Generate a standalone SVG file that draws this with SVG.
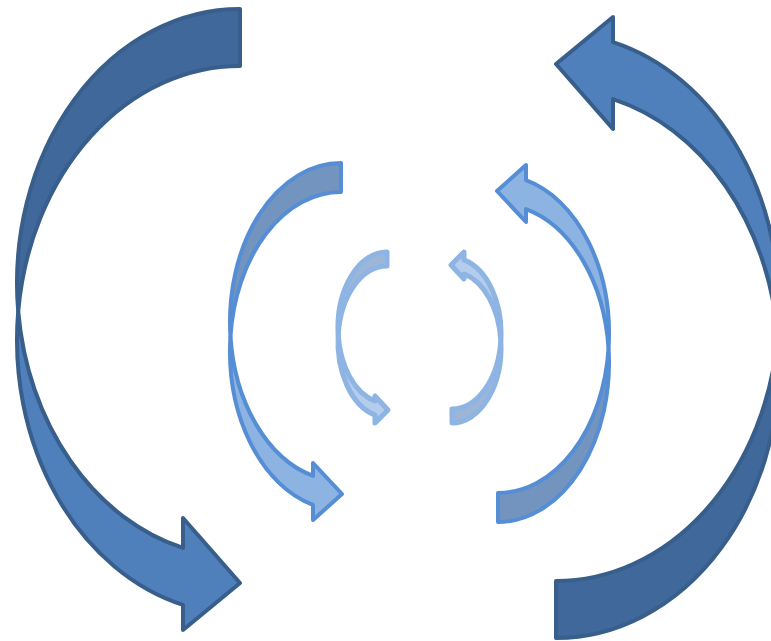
<svg xmlns="http://www.w3.org/2000/svg" width="771" height="641" viewBox="0 0 771 641">
<style>
.big{stroke:#385E8B;stroke-width:4;stroke-linejoin:round}
.big-back{fill:#41689A}
.big-front{fill:#4F80BC}
.mid{stroke:#558ED5;stroke-width:4;stroke-linejoin:round}
.mid-back{fill:#7294BF}
.mid-front{fill:#8DB3E2}
.sml{stroke:#8EB4E3;stroke-width:5;stroke-linejoin:round}
.sml-back{fill:#9DB6D8}
.sml-front{fill:#B5CDEC}
</style>
<rect width="771" height="641" fill="#FFFFFF"/>
<g id="arrow-big-left" class="big">
<path class="big-back" d="M240,9 A223,274 0 0 0 18.21,311.5 A223,274 0 0 1 240,66 Z"/>
<path class="big-front" d="M18.21,311.5 A223,274 0 0 0 183,604.9 L183,630 L240,583 L183,518 L183,547.9 A223,274 0 0 1 18.21,311.5 Z"/>
</g>
<g id="arrow-big-right" class="big" transform="rotate(180 398 323.5)">
<path class="big-back" d="M240,9 A223,274 0 0 0 18.21,311.5 A223,274 0 0 1 240,66 Z"/>
<path class="big-front" d="M18.21,311.5 A223,274 0 0 0 183,604.9 L183,630 L240,583 L183,518 L183,547.9 A223,274 0 0 1 18.21,311.5 Z"/>
</g>
<g id="arrow-mid-left" class="mid">
<path class="mid-back" d="M341,163 A111,159 0 0 0 230.46,336.5 A111,159 0 0 1 341,192 Z"/>
<path class="mid-front" d="M230.46,336.5 A111,159 0 0 0 313,504.9 L313,520 L342,494 L313,463 L313,475.9 A111,159 0 0 1 230.46,336.5 Z"/>
</g>
<g id="arrow-mid-right" class="mid" transform="rotate(180 419.5 342.5)">
<path class="mid-back" d="M341,163 A111,159 0 0 0 230.46,336.5 A111,159 0 0 1 341,192 Z"/>
<path class="mid-front" d="M230.46,336.5 A111,159 0 0 0 313,504.9 L313,520 L342,494 L313,463 L313,475.9 A111,159 0 0 1 230.46,336.5 Z"/>
</g>
<g id="arrow-small-left" class="sml">
<path class="sml-back" d="M387,252 A49,75.7 0 0 0 338.2,334.7 A49,75.7 0 0 1 387,266 Z"/>
<path class="sml-front" d="M338.2,334.7 A49,75.7 0 0 0 375,415.1 L375,423 L388,410 L375,396 L375,401.1 A49,75.7 0 0 1 338.2,334.7 Z"/>
</g>
<g id="arrow-small-right" class="sml" transform="rotate(180 419.5 337.5)">
<path class="sml-back" d="M387,252 A49,75.7 0 0 0 338.2,334.7 A49,75.7 0 0 1 387,266 Z"/>
<path class="sml-front" d="M338.2,334.7 A49,75.7 0 0 0 375,415.1 L375,423 L388,410 L375,396 L375,401.1 A49,75.7 0 0 1 338.2,334.7 Z"/>
</g>
<g id="connectors"/>
</svg>
